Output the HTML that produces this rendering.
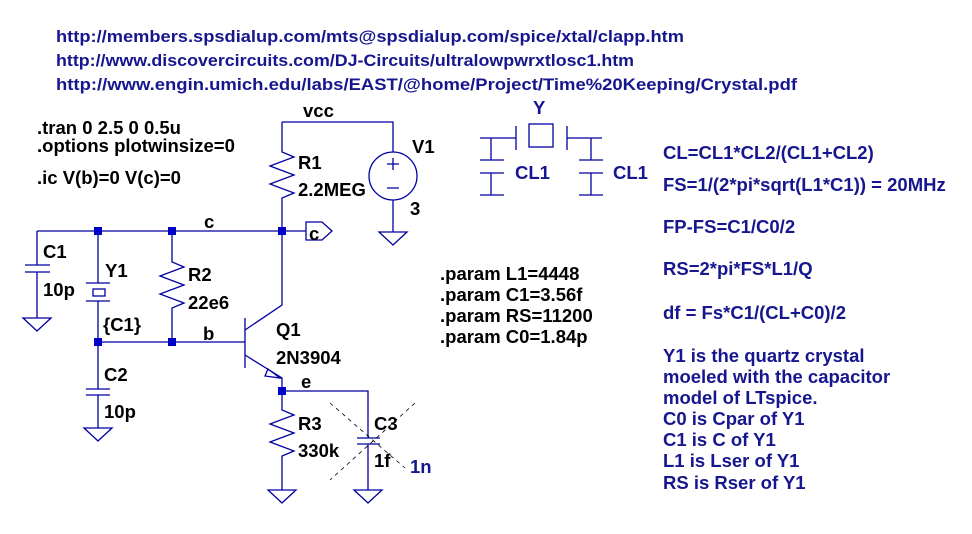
<!DOCTYPE html>
<html><head><meta charset="utf-8"><style>
html,body{margin:0;padding:0;background:#fff;}
svg{display:block;}
text{font-family:"Liberation Sans",Arial,sans-serif;font-weight:bold;font-size:18.5px;}
.u{font-size:17px;}
.b{fill:#16168e;}
.k{fill:#000;}
.w{stroke:#0000a0;stroke-width:1.3;fill:none;}
.n{fill:#0000c8;}
</style></head><body>
<svg width="972" height="534" viewBox="0 0 972 534" xmlns="http://www.w3.org/2000/svg">
<rect width="972" height="534" fill="#fff"/>
<text class="b u" x="56" y="42" textLength="628" lengthAdjust="spacingAndGlyphs">http://members.spsdialup.com/mts@spsdialup.com/spice/xtal/clapp.htm</text>
<text class="b u" x="56" y="66" textLength="578" lengthAdjust="spacingAndGlyphs">http://www.discovercircuits.com/DJ-Circuits/ultralowpwrxtlosc1.htm</text>
<text class="b u" x="56" y="90" textLength="741" lengthAdjust="spacingAndGlyphs">http://www.engin.umich.edu/labs/EAST/@home/Project/Time%20Keeping/Crystal.pdf</text>

<text class="k" x="37" y="134">.tran 0 2.5 0 0.5u</text>
<text class="k" x="37" y="152">.options plotwinsize=0</text>
<text class="k" x="37" y="184">.ic V(b)=0 V(c)=0</text>

<g class="w">
<path d="M282 122 H393 V152 M393 200 V232"/>
<path d="M282 122 V152 l12 5 -24 9 24 9 -24 9 24 9 -12 5 V305 L245 330"/>
<path d="M37 231 H306"/>
<path d="M306 222 h16 l10 9 -10 9 h-16 z"/>
<path d="M37 231 V265 M25 265 h25 M25 272 h25 M37 272 V318"/>
<path d="M98 231 V283 M86 283 h24 M86 301 h24 M98 301 V342"/>
<rect x="93" y="289" width="12" height="7"/>
<path d="M172 231 V262 l12 5 -24 9 24 9 -24 9 24 9 -12 5 V342"/>
<path d="M98 342 H245 M245 318 V368"/>
<path d="M98 342 V389 M86 389 h24 M86 395 h24 M98 395 V428"/>
<path d="M245 355 L282 378 V410 l12 5 -24 9 24 9 -24 9 24 9 -12 5 V490"/>
<path d="M268 369 l12 9 -15 -2 z" />
<path d="M282 391 H368 V438 M357 438 h23 M357 444 h23 M368 444 V490"/>
<circle cx="393" cy="176" r="24"/>
<path d="M393 158 v12 M387 164 h12 M387 188 h12"/>
<path d="M23 318 h28 l-14 13 z M84 428 h28 l-14 13 z M268 490 h28 l-14 13 z M354 490 h28 l-14 13 z M379 232 h28 l-14 13 z"/>
<path d="M480 138 H516 M516 126 V150 M491 138 V160 M480 160 h24 M480 173 h24 M491 173 V195 M480 195 h24"/>
<rect x="529" y="124" width="24" height="23"/>
<path d="M567 126 V150 M567 138 H602 M591 138 V160 M579 160 h24 M579 173 h24 M591 173 V195 M579 195 h24"/>
</g>
<g stroke="#000" stroke-width="0.8" stroke-dasharray="4,4" fill="none">
<path d="M330 403 L405 468 M415 403 L330 480"/>
</g>
<g class="n">
<rect x="94" y="227" width="8" height="8"/><rect x="168" y="227" width="8" height="8"/><rect x="278" y="227" width="8" height="8"/>
<rect x="94" y="338" width="8" height="8"/><rect x="168" y="338" width="8" height="8"/><rect x="278" y="387" width="8" height="8"/>
</g>

<text class="k" x="303" y="117">vcc</text>
<text class="k" x="298" y="169">R1</text>
<text class="k" x="298" y="196">2.2MEG</text>
<text class="k" x="412" y="153">V1</text>
<text class="k" x="410" y="215">3</text>
<text class="k" x="204" y="228">c</text>
<text class="k" x="309" y="240">c</text>
<text class="k" x="43" y="258">C1</text>
<text class="k" x="43" y="296">10p</text>
<text class="k" x="105" y="277">Y1</text>
<text class="k" x="103" y="331">{C1}</text>
<text class="k" x="188" y="281">R2</text>
<text class="k" x="188" y="309">22e6</text>
<text class="k" x="203" y="340">b</text>
<text class="k" x="276" y="336">Q1</text>
<text class="k" x="276" y="364">2N3904</text>
<text class="k" x="301" y="388">e</text>
<text class="k" x="104" y="381">C2</text>
<text class="k" x="104" y="418">10p</text>
<text class="k" x="298" y="430">R3</text>
<text class="k" x="298" y="457">330k</text>
<text class="k" x="374" y="430">C3</text>
<text class="k" x="374" y="467">1f</text>
<text class="b" x="410" y="473">1n</text>

<text class="k" x="440" y="280">.param L1=4448</text>
<text class="k" x="440" y="301">.param C1=3.56f</text>
<text class="k" x="440" y="322">.param RS=11200</text>
<text class="k" x="440" y="343">.param C0=1.84p</text>

<text class="b" x="533" y="114">Y</text>
<text class="b" x="515" y="179">CL1</text>
<text class="b" x="613" y="179">CL1</text>

<text class="b" x="663" y="159">CL=CL1*CL2/(CL1+CL2)</text>
<text class="b" x="663" y="191">FS=1/(2*pi*sqrt(L1*C1)) = 20MHz</text>
<text class="b" x="663" y="233">FP-FS=C1/C0/2</text>
<text class="b" x="663" y="275">RS=2*pi*FS*L1/Q</text>
<text class="b" x="663" y="319">df = Fs*C1/(CL+C0)/2</text>
<text class="b" x="663" y="362">Y1 is the quartz crystal</text>
<text class="b" x="663" y="383">moeled with the capacitor</text>
<text class="b" x="663" y="404">model of LTspice.</text>
<text class="b" x="663" y="425">C0 is Cpar of Y1</text>
<text class="b" x="663" y="446">C1 is C of Y1</text>
<text class="b" x="663" y="467">L1 is Lser of Y1</text>
<text class="b" x="663" y="489">RS is Rser of Y1</text>
</svg>
</body></html>
